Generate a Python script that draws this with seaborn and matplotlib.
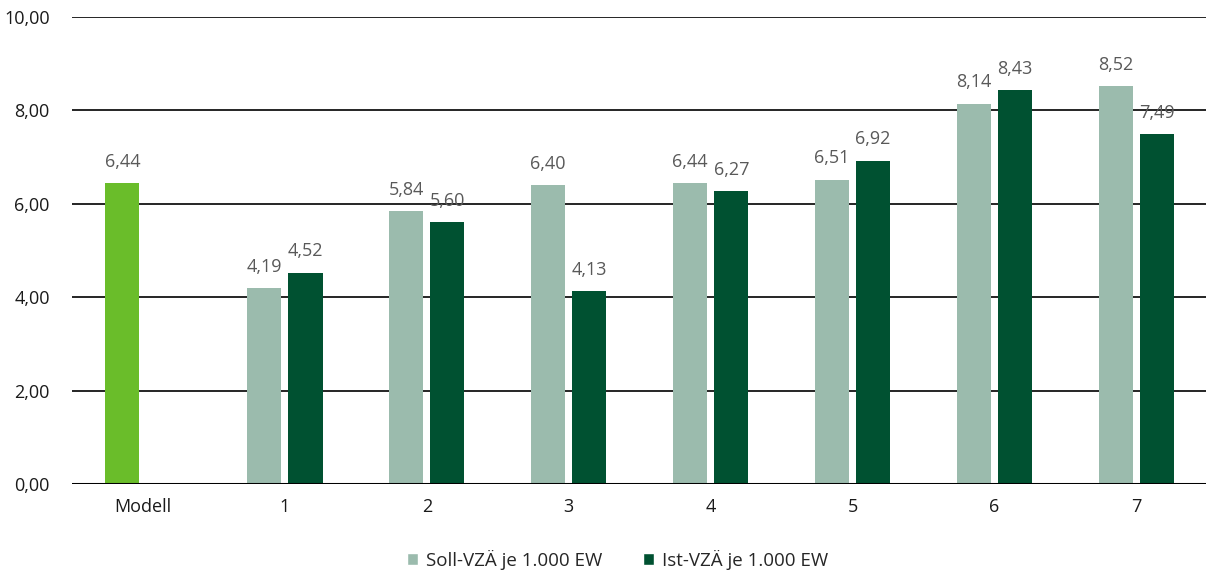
import matplotlib
matplotlib.use("Agg")
import matplotlib.pyplot as plt
import seaborn as sns
import pandas as pd
import numpy as np
from matplotlib.patches import Patch

categories = ["Modell", "1", "2", "3", "4", "5", "6", "7"]
soll_values = [6.44, 4.19, 5.84, 6.40, 6.44, 6.51, 8.14, 8.52]
ist_values = [np.nan, 4.52, 5.60, 4.13, 6.27, 6.92, 8.43, 7.49]
series_names = ["Soll-VZÄ je 1.000 EW", "Ist-VZÄ je 1.000 EW"]
y_ticks = [0, 2, 4, 6, 8, 10]

col_soll = "#9bbbad"
col_ist = "#005131"
col_model = "#6abd2a"

df = pd.DataFrame({
    "Kategorie": categories * 2,
    "Wert": soll_values + ist_values,
    "Reihe": [series_names[0]] * len(categories) + [series_names[1]] * len(categories),
}).dropna()

sns.set_theme(style="white")
plt.rcParams["font.family"] = ["Open Sans", "DejaVu Sans"]

fig = plt.figure(figsize=(12.06, 5.74), dpi=100)
ax = fig.add_axes([72 / 1206, 1 - 484 / 574, 1 - 72 / 1206, (484 - 17) / 574])

sns.barplot(data=df, x="Kategorie", y="Wert", hue="Reihe", order=categories,
            hue_order=series_names, palette=[col_soll, col_ist],
            width=0.58, gap=0.17, dodge=True, legend=False, ax=ax,
            saturation=1, errorbar=None, linewidth=0)

def fmt(v):
    return f"{v:.2f}".replace(".", ",")

for container, vals in zip(ax.containers, [soll_values, ist_values]):
    labels = [fmt(v) for v in vals if not np.isnan(v)]
    ax.bar_label(container, labels=labels, padding=9, fontsize=13, color="#595959")

# Model reference bar is highlighted in bright green
ax.containers[0].patches[0].set_facecolor(col_model)

ax.set_ylim(0, 10)
ax.set_xlim(-0.5, 7.49)
ax.set_yticks(y_ticks)
ax.set_yticklabels([fmt(t) for t in y_ticks])
ax.yaxis.grid(True, color="black", linewidth=1.2)
ax.set_axisbelow(True)
ax.axhline(0, color="black", linewidth=2.2, zorder=3)
for s in ax.spines.values():
    s.set_visible(False)
ax.tick_params(axis="both", length=0, labelsize=13, colors="#1a1a1a")
ax.tick_params(axis="y", pad=16)
ax.tick_params(axis="x", pad=10)
ax.set_xlabel("")
ax.set_ylabel("")

handles = [Patch(facecolor=col_soll), Patch(facecolor=col_ist)]
fig.legend(handles, series_names, loc="center", bbox_to_anchor=(0.512, 1 - 560 / 574),
           ncol=2, frameon=False, fontsize=13.5, handlelength=0.6, handleheight=0.6,
           handletextpad=0.4, columnspacing=2.2)

fig.savefig("out.png", dpi=100)
